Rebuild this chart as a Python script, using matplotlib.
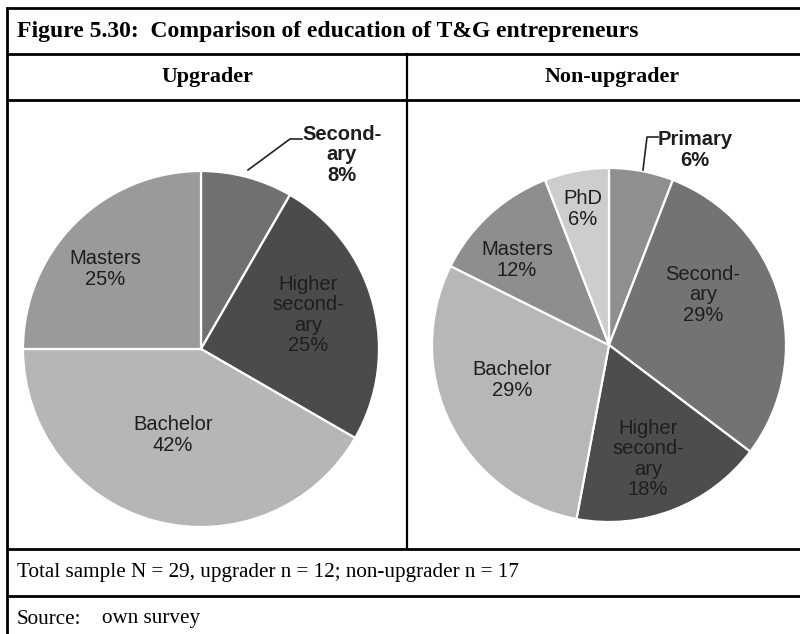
import matplotlib
matplotlib.use("Agg")
import matplotlib.pyplot as plt

# education counts per group (clockwise from 12 o'clock)
upg_labels = ["Second-\nary", "Higher\nsecond-\nary", "Bachelor", "Masters"]
upg_counts = [1, 3, 5, 3]
upg_colors = ["#707070", "#4b4b4b", "#b6b6b6", "#9a9a9a"]

non_labels = ["Primary", "Second-\nary", "Higher\nsecond-\nary", "Bachelor", "Masters", "PhD"]
non_counts = [1, 5, 3, 5, 2, 1]
non_colors = ["#8f8f8f", "#737373", "#4d4d4d", "#b7b7b7", "#8e8e8e", "#cdcdcd"]

title = "Figure 5.30:  Comparison of education of T&G entrepreneurs"
headers = ["Upgrader", "Non-upgrader"]
note = "Total sample N = 29, upgrader n = 12; non-upgrader n = 17"

W, H = 800, 634
fig = plt.figure(figsize=(W / 100, H / 100), dpi=100)
fig.patch.set_facecolor("white")

serif = "Liberation Serif"
sans = "Liberation Sans"


def pie_axes(cx, cy, r):
    # square axes in pixel units, pie of radius 1 fills it
    ax = fig.add_axes([(cx - r) / W, (H - cy - r) / H, 2 * r / W, 2 * r / H])
    ax.set_xlim(-1, 1)
    ax.set_ylim(-1, 1)
    ax.axis("off")
    return ax


def draw_pie(ax, counts, colors):
    ax.pie(counts, colors=colors, startangle=90, counterclock=False,
           radius=1.0, frame=False,
           wedgeprops=dict(edgecolor="white", linewidth=1.6))
    ax.set_xlim(-1, 1)
    ax.set_ylim(-1, 1)


ax_l = pie_axes(201, 349, 178)
draw_pie(ax_l, upg_counts, upg_colors)
ax_r = pie_axes(609, 345, 177)
draw_pie(ax_r, non_counts, non_colors)

# overlay in pixel coordinates for the table frame and the labels
ov = fig.add_axes([0, 0, 1, 1], zorder=5)
ov.set_xlim(0, W)
ov.set_ylim(H, 0)
ov.axis("off")
ov.patch.set_alpha(0)

lw = 2.0
for y in [8, 54, 100, 549, 596]:
    ov.plot([7, W], [y, y], color="black", lw=lw, solid_capstyle="butt")
ov.plot([7, 7], [8, H], color="black", lw=lw)
ov.plot([407, 407], [54, 549], color="black", lw=1.6)

ov.text(17, 31, title, fontsize=17.0, fontweight="bold", family=serif,
        va="center", ha="left")
ov.text(207, 77, headers[0], fontsize=15.8, fontweight="bold", family=serif,
        va="center", ha="center")
ov.text(612, 77, headers[1], fontsize=15.8, fontweight="bold", family=serif,
        va="center", ha="center")
ov.text(17, 573, note, fontsize=15.2, family=serif, va="center", ha="left")
ov.text(17, 619, "Source:", fontsize=15.2, family=serif, va="center", ha="left")
ov.text(102, 619, "own survey", fontsize=15.2, family=serif, va="center", ha="left")


def pct_text(name, count, total):
    return "%s\n%d%%" % (name, round(100.0 * count / total))


# label anchor points in pixels, bold flag for the ones pulled outside
upg_pos = [(342, 155, True), (308, 315, False), (173, 435, False), (105, 269, False)]
non_pos = [(695, 150, True), (703, 295, False), (648, 459, False),
           (512, 380, False), (517, 260, False), (583, 209, False)]

for labels, counts, pos in [(upg_labels, upg_counts, upg_pos),
                            (non_labels, non_counts, non_pos)]:
    total = sum(counts)
    for name, c, (x, y, bold) in zip(labels, counts, pos):
        ov.text(x, y, pct_text(name, c, total), fontsize=14.5, family=sans,
                ha="center", va="center", linespacing=1.08, color="#1e1e1e",
                fontweight="bold" if bold else "normal")

# leader lines for the small slices
ov.plot([248, 290, 302], [170, 139, 139], color="#222222", lw=1.2)
ov.plot([643, 647, 658], [170, 137, 137], color="#222222", lw=1.2)

fig.savefig("out.png", dpi=100, facecolor="white")
